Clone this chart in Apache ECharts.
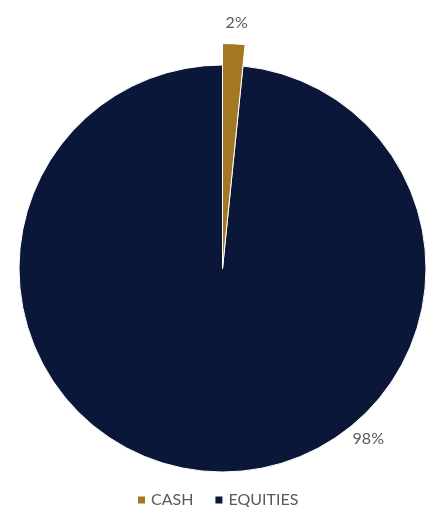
<!DOCTYPE html>
<html>
<head>
<meta charset="utf-8">
<script src="https://cdn.jsdelivr.net/npm/echarts@6/dist/echarts.min.js"></script>
<style>
  html, body { margin: 0; padding: 0; background: #fff; }
  #chart { width: 433px; height: 507px; }
</style>
</head>
<body>
<div id="chart"></div>
<script>
// data
const categories = ["CASH", "EQUITIES"];
const shares = [1.6, 98.4];
const colors = ["#A47722", "#0B1738"];

// layout
const cx = 222.5, cy = 268.5;
const labelAngle = [3.3, 139.4]; // degrees clockwise from top
const labelRadius = [246, 224];

const chart = echarts.init(document.getElementById("chart"));

function pct(p) {
  return Math.round(p.value) + "%";
}

function placeLabel(p) {
  const a = labelAngle[p.dataIndex] * Math.PI / 180;
  const r = labelRadius[p.dataIndex];
  return {
    x: cx + r * Math.sin(a),
    y: cy - r * Math.cos(a),
    align: "center",
    verticalAlign: "middle"
  };
}

const labelStyle = {
  show: true,
  position: "outside",
  formatter: pct,
  color: "#595959",
  fontSize: 16,
  fontFamily: "Lato"
};

const option = {
  animation: false,
  color: colors,
  legend: {
    top: 487,
    left: 131,
    itemWidth: 9,
    itemHeight: 9,
    itemGap: 20,
    icon: "rect",
    data: categories,
    textStyle: { color: "#595959", fontSize: 16, fontFamily: "Lato" }
  },
  series: [
    {
      // main pie
      type: "pie",
      center: [cx, cy],
      radius: [0, 203.5],
      startAngle: 90,
      clockwise: true,
      itemStyle: { borderColor: "#fff", borderWidth: 1 },
      labelLine: { show: false },
      label: labelStyle,
      labelLayout: placeLabel,
      data: categories.map((c, i) => ({
        name: c,
        value: shares[i],
        label: { show: i === 1 }
      }))
    },
    {
      // cash slice drawn larger
      type: "pie",
      center: [cx, cy],
      radius: [0, 225],
      startAngle: 90,
      clockwise: true,
      silent: true,
      labelLine: { show: false },
      label: labelStyle,
      labelLayout: placeLabel,
      data: categories.map((c, i) => ({
        name: c,
        value: shares[i],
        label: { show: i === 0 },
        itemStyle: i === 0
          ? { color: colors[0], borderColor: "#fff", borderWidth: 1 }
          : { color: "rgba(0,0,0,0)", borderWidth: 0 }
      }))
    }
  ]
};

chart.setOption(option);
</script>
</body>
</html>
